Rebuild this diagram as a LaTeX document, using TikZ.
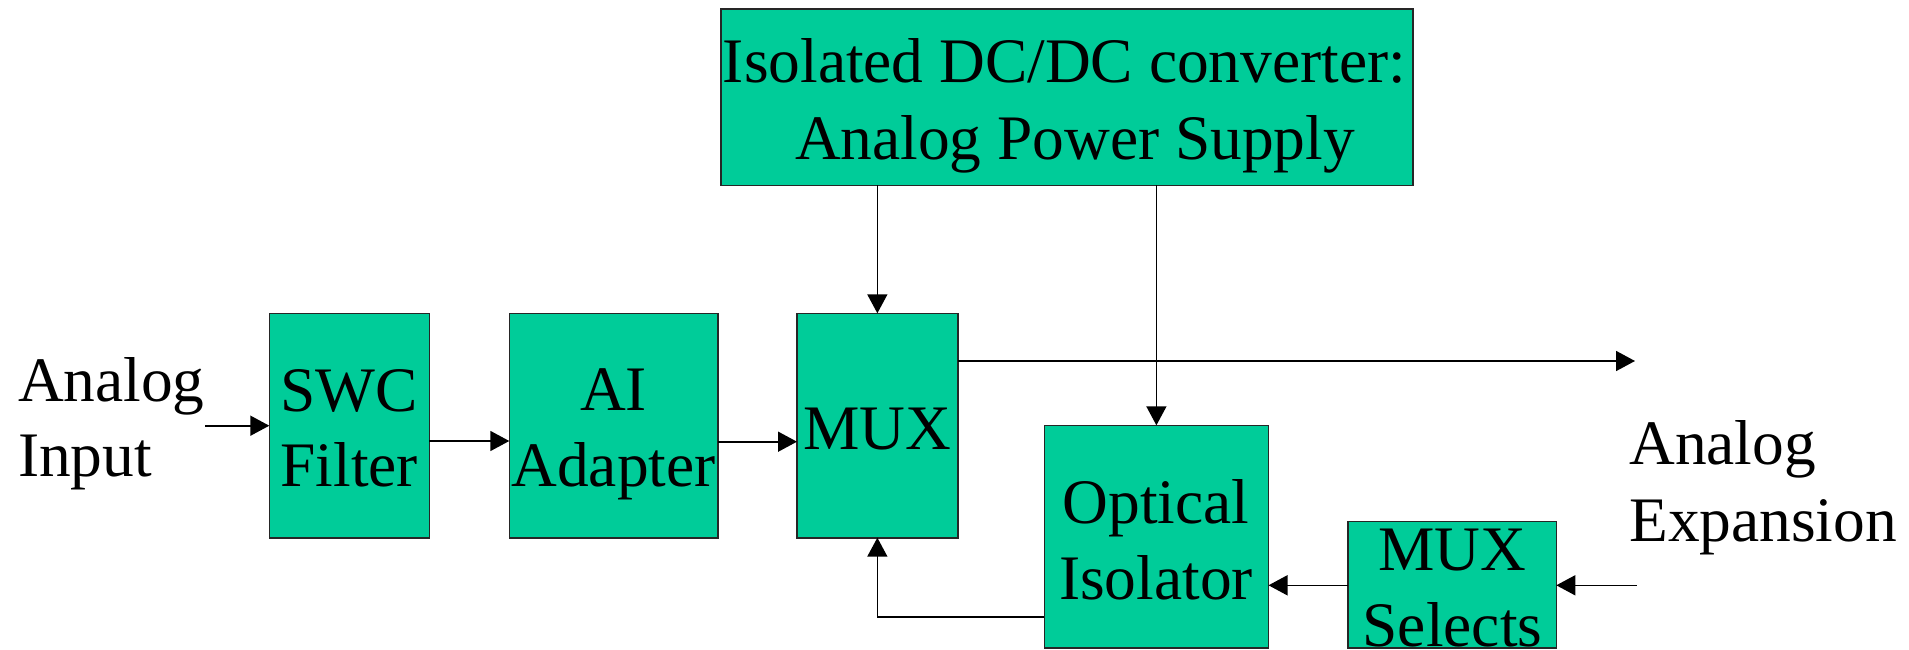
\documentclass[tikz,border=0pt]{standalone}
\usepackage{fontspec}
\setmainfont{Liberation Serif}
\usetikzlibrary{arrows.meta}
\definecolor{boxgreen}{RGB}{0,204,153}
\begin{document}
\begin{tikzpicture}[x=1pt,y=-1pt,
  box/.style={draw=black!85, line width=1.6pt, fill=boxgreen, inner sep=0pt, outer sep=0pt},
  txt/.style={inner sep=0pt, outer sep=0pt, font=\fontsize{63.4pt}{76.6pt}\selectfont, anchor=base},
  txtl/.style={txt, anchor=base west},
  arr/.style={line width=1.6pt, -{Triangle[length=19pt,width=20pt]}},
  ln/.style={line width=1.6pt}]
\useasboundingbox (0,0) rectangle (1909,650);

% boxes
\node[box, minimum width=692pt, minimum height=176pt] (pwr) at (1066.7,97.3) {};
\node[box, minimum width=160pt, minimum height=224.4pt] (swc) at (349.3,425.5) {};
\node[box, minimum width=208.4pt, minimum height=224.4pt] (ai) at (613.5,425.5) {};
\node[box, minimum width=160.7pt, minimum height=224.4pt] (mux) at (877.35,425.5) {};
\node[box, minimum width=224.2pt, minimum height=222.7pt] (opt) at (1156.4,536.65) {};
\node[box, minimum width=208.3pt, minimum height=126.7pt] (sel) at (1452.15,584.65) {};

% texts
\node[txt] (pwr1) at (1064.5,82.7) {Isolated DC/DC converter:};
\node[txt] (pwr2) at (1075,159.3) {Analog Power Supply};
\node[txtl] (in1) at (18,401.7) {Analog};
\node[txtl] (in2) at (18,476.7) {Input};
\node[txt] (swc1) at (349.3,411.7) {SWC};
\node[txt] (swc2) at (349.3,486) {Filter};
\node[txt] (ai1) at (613.5,410) {AI};
\node[txt] (ai2) at (613.5,486.7) {Adapter};
\node[txt] (mux1) at (877.35,449.3) {MUX};
\node[txt] (opt1) at (1156,523.3) {Optical};
\node[txt] (opt2) at (1156,599) {Isolator};
\node[txt] (sel1) at (1452.5,570.7) {MUX};
\node[txt] (sel2) at (1452.5,646.7) {Selects};
\node[txtl] (ex1) at (1629.3,464.3) {Analog};
\node[txtl] (ex2) at (1629.3,541.7) {Expansion};

% connectors
\coordinate (inStart) at (205,425.7);
\coordinate (r1) at (0,441);
\coordinate (r2) at (0,441.7);
\coordinate (outEnd) at (1635,361);
\coordinate (expStart) at (1636.7,585.3);
\coordinate (fb) at (0,617);

\draw[arr] (inStart) -- (inStart -| swc.west);
\draw[arr] (r1 -| swc.east) -- (r1 -| ai.west);
\draw[arr] (r2 -| ai.east) -- (r2 -| mux.west);
\draw[arr] (pwr.south -| mux.north) -- (mux.north);
\draw[arr] (pwr.south -| opt.north) -- (opt.north);
\draw[arr] (mux.east |- outEnd) -- (outEnd);
\draw[arr] (expStart) -- (expStart -| sel.east);
\draw[arr] (sel.west |- expStart) -- (expStart -| opt.east);
\draw[arr] (fb -| opt.west) -| (mux.south);
\end{tikzpicture}
\end{document}
